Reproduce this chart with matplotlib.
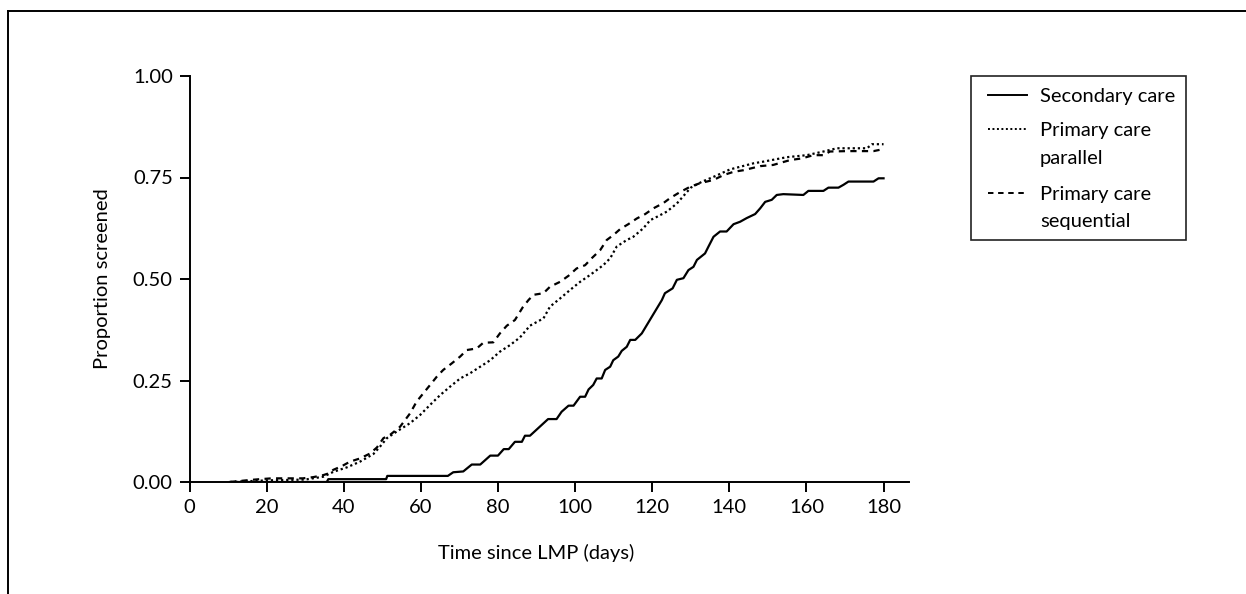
import matplotlib
matplotlib.use("Agg")
from matplotlib import pyplot as plt
from matplotlib.lines import Line2D
from matplotlib.patches import Rectangle

# days since LMP and cumulative proportion screened
sec_days = [10.5, 35.6, 36, 51, 51.3, 67, 68.4, 71, 73.2, 75.4,
            78, 80, 81.5, 82.8, 84.4, 86.2, 87, 88.3, 93, 95.2,
            96.5, 98.3, 99.6, 101.3, 102.6, 103.5, 104.7, 105.6, 106.9, 107.8,
            109.1, 109.9, 111.2, 112.1, 113.4, 114.3, 115.6, 117.3, 119.9, 122.5,
            123.3, 125.3, 126.4, 128.1, 129.4, 130.7, 131.6, 133.7, 134.6, 135.9,
            137.6, 139.3, 141.1, 142.8, 144.5, 146.7, 148, 149.3, 151, 152.3,
            154, 159.2, 160.5, 164.4, 165.7, 168.3, 169.6, 170.9, 177.4, 178.7, 180]
sec_prop = [0, 0, 0.007, 0.007, 0.015, 0.015, 0.024, 0.026, 0.043, 0.043,
            0.065, 0.065, 0.081, 0.081, 0.099, 0.099, 0.114, 0.114, 0.155, 0.155,
            0.173, 0.188, 0.188, 0.21, 0.21, 0.228, 0.239, 0.255, 0.255, 0.276,
            0.284, 0.30, 0.309, 0.323, 0.333, 0.35, 0.35, 0.366, 0.407, 0.448,
            0.465, 0.477, 0.498, 0.502, 0.522, 0.53, 0.547, 0.563, 0.58, 0.604,
            0.617, 0.617, 0.635, 0.641, 0.65, 0.66, 0.674, 0.69, 0.695, 0.707,
            0.709, 0.707, 0.717, 0.717, 0.725, 0.725, 0.732, 0.74, 0.74, 0.748, 0.748]

par_days = [10.5, 20, 30, 34.7, 37.3, 40.8, 44.2, 47.7, 49.4, 51.2,
            53.7, 57.2, 59.8, 62.4, 65, 67.6, 70.2, 72.8, 75.4, 78,
            80.5, 83.1, 85.7, 88.3, 91.8, 93.5, 96.1, 98.7, 101.3, 103.9,
            107.3, 109.1, 110.8, 113.4, 115.1, 117.7, 119.5, 121.2, 123.8, 126.4,
            130, 133, 136, 140.2, 146.3, 148.8, 154.9, 160.1, 164.4, 167.9,
            175.7, 177, 180]
par_prop = [0, 0.004, 0.006, 0.013, 0.025, 0.036, 0.05, 0.069, 0.087, 0.108,
            0.124, 0.145, 0.165, 0.19, 0.214, 0.235, 0.255, 0.268, 0.284, 0.30,
            0.321, 0.337, 0.356, 0.385, 0.403, 0.432, 0.452, 0.473, 0.493, 0.51,
            0.534, 0.551, 0.58, 0.596, 0.604, 0.625, 0.645, 0.653, 0.666, 0.686,
            0.725, 0.74, 0.752, 0.77, 0.785, 0.789, 0.80, 0.805, 0.814, 0.822,
            0.822, 0.832, 0.832]

seq_days = [10.5, 15.7, 18.3, 21.3, 29.4, 32.1, 34.7, 36, 37.3, 39.5,
            41.6, 44.2, 46.8, 48.6, 50.3, 52, 54.6, 57.2, 58.9, 60.6,
            62.4, 64.1, 65.8, 68, 70.2, 71.9, 74.5, 76.2, 78.8, 80.5,
            82.3, 84.4, 86.4, 87.9, 89.2, 91.8, 93.5, 96.1, 98.3, 100.4,
            102.6, 104.3, 106.5, 108.2, 109.9, 111.7, 113.8, 116, 118.2, 120.3,
            122.9, 124.6, 127.2, 129.8, 132.4, 135.9, 138.5, 141.1, 143.7, 148,
            151.4, 155.8, 158.8, 161.8, 164.4, 166.1, 170.5, 177.4, 180]
seq_prop = [0, 0.005, 0.007, 0.009, 0.009, 0.012, 0.017, 0.021, 0.03, 0.039,
            0.05, 0.058, 0.07, 0.085, 0.108, 0.116, 0.136, 0.169, 0.198, 0.218,
            0.239, 0.259, 0.276, 0.292, 0.309, 0.325, 0.329, 0.343, 0.344, 0.366,
            0.385, 0.399, 0.43, 0.448, 0.461, 0.465, 0.481, 0.493, 0.508, 0.526,
            0.534, 0.551, 0.571, 0.596, 0.608, 0.623, 0.635, 0.649, 0.66, 0.674,
            0.687, 0.699, 0.714, 0.727, 0.736, 0.744, 0.756, 0.764, 0.768, 0.778,
            0.781, 0.793, 0.797, 0.805, 0.805, 0.814, 0.815, 0.815, 0.82]

x_ticks = [0, 20, 40, 60, 80, 100, 120, 140, 160, 180]
y_ticks = [0, 0.25, 0.5, 0.75, 1.0]
y_labels = ["0.00", "0.25", "0.50", "0.75", "1.00"]
legend_labels = ["Secondary care", "Primary care\nparallel", "Primary care\nsequential"]

plt.rcParams["font.family"] = ["Lato", "DejaVu Sans"]
fs = 14.5

W, H = 1246, 594
fig = plt.figure(figsize=(W / 100, H / 100), dpi=100)
ax = fig.add_axes([189.5 / W, 1 - 482 / H, (909 - 189.5) / W, (482 - 76) / H])

styles = ["-", (0, (1, 1.3)), (0, (2.8, 2.4))]
series = [(sec_days, sec_prop), (par_days, par_prop), (seq_days, seq_prop)]
for (d, p), st, lab in zip(series, styles, legend_labels):
    ax.plot(d, p, color="black", lw=1.6, ls=st, label=lab)

ax.set_xlim(0, 186.6)
ax.set_ylim(0, 1.0)
ax.set_xticks(x_ticks)
ax.set_yticks(y_ticks)
ax.set_yticklabels(y_labels)
ax.spines["top"].set_visible(False)
ax.spines["right"].set_visible(False)
for s in ("left", "bottom"):
    ax.spines[s].set_linewidth(1.4)
ax.tick_params(length=7, width=1.4, labelsize=fs)
ax.tick_params(axis="x", pad=5)
ax.tick_params(axis="y", pad=5)

ax.set_xlabel("Time since LMP (days)", fontsize=fs)
ax.xaxis.set_label_coords(90 / 186.6, -0.152)
ax.set_ylabel("Proportion screened", fontsize=fs)
ax.yaxis.set_label_coords(-0.109, 0.502)

# legend box drawn by hand so the key sits on the first line of each label
fig.add_artist(Rectangle((971 / W, 1 - 240 / H), (1186 - 971) / W, (240 - 76) / H,
                         transform=fig.transFigure, fill=False,
                         edgecolor="#222222", lw=1.2))
row_y = [95, 129, 193]
for y, st, lab in zip(row_y, styles, legend_labels):
    fig.add_artist(Line2D([988 / W, 1027 / W], [1 - y / H, 1 - y / H],
                          color="black", lw=1.4, ls=st))
    fig.text(1040 / W, 1 - (y - 7) / H, lab, fontsize=fs, va="top", ha="left",
             linespacing=1.75)

# outer frame of the original figure (cropped at right and bottom)
fig.add_artist(Line2D([8 / W, 1.0], [1 - 11 / H, 1 - 11 / H], color="black", lw=1.4))
fig.add_artist(Line2D([8 / W, 8 / W], [0, 1 - 11 / H], color="black", lw=1.4))

fig.savefig("out.png", dpi=100)
